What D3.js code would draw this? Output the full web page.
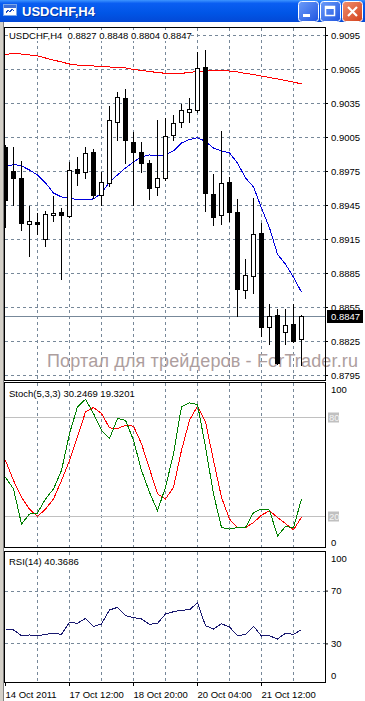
<!DOCTYPE html>
<html>
<head>
<meta charset="utf-8">
<title>USDCHF,H4</title>
<script src="https://cdn.jsdelivr.net/npm/d3@7"></script>
<style>
  body { margin: 0; background: #d4d0c8; }
  svg { display: block; }
  text { font-family: "Liberation Sans", Arial, sans-serif; }
</style>
</head>
<body>
<svg id="chart" width="365" height="701"></svg>
<script>
// USDCHF H4, last 38 bars
var symbol = "USDCHF,H4";
var opens  = [0.8996,0.8975,0.8969,0.8928,0.8930,0.8915,0.8936,0.8939,0.8935,0.8977,0.8974,0.8992,0.8954,0.8964,0.9018,0.9039,0.9001,0.8992,0.8982,0.8961,0.8969,0.9007,0.9018,0.9027,0.9029,0.9067,0.8955,0.8936,0.8965,0.8939,0.8870,0.8882,0.8920,0.8837,0.8848,0.8833,0.8840,0.8827];
var highs  = [0.8998,0.8996,0.8984,0.8944,0.8938,0.8940,0.8953,0.8942,0.8983,0.8987,0.8996,0.8994,0.8974,0.9032,0.9045,0.9047,0.9009,0.9001,0.8985,0.9020,0.9022,0.9024,0.9034,0.9039,0.9080,0.9082,0.8972,0.9010,0.8970,0.8950,0.8897,0.8951,0.8929,0.8858,0.8853,0.8853,0.8858,0.8848];
var lows   = [0.8926,0.8945,0.8923,0.8900,0.8919,0.8909,0.8931,0.8880,0.8934,0.8963,0.8969,0.8951,0.8945,0.8962,0.9002,0.8982,0.8945,0.8974,0.8950,0.8954,0.8967,0.9002,0.9014,0.9018,0.9027,0.8940,0.8927,0.8928,0.8931,0.8847,0.8863,0.8867,0.8829,0.8822,0.8805,0.8822,0.8824,0.8804];
var closes = [0.8949,0.8969,0.8929,0.8931,0.8928,0.8937,0.8938,0.8936,0.8976,0.8973,0.8991,0.8954,0.8965,0.9020,0.9040,0.9002,0.8992,0.8982,0.8960,0.8969,0.9006,0.9017,0.9029,0.9030,0.9066,0.8956,0.8934,0.8964,0.8939,0.8871,0.8883,0.8919,0.8837,0.8847,0.8806,0.8839,0.8825,0.8847];

var maSlow = [0.90778,0.90787,0.90782,0.90774,0.90765,0.90747,0.90729,0.90712,0.90694,0.90685,0.90677,0.90677,0.90672,0.90668,0.90663,0.90659,0.90646,0.90637,0.90628,0.90619,0.90612,0.90612,0.90612,0.90619,0.90628,0.90634,0.90635,0.90635,0.90632,0.90624,0.90610,0.90602,0.90588,0.90575,0.90562,0.90549,0.90535,0.90518];
var maFast = [0.89786,0.89808,0.89795,0.89759,0.89715,0.89645,0.89556,0.89521,0.89508,0.89499,0.89495,0.89504,0.89556,0.89653,0.89715,0.89777,0.89830,0.89874,0.89892,0.89883,0.89892,0.89927,0.89997,0.90028,0.90044,0.90011,0.89953,0.89927,0.89909,0.89821,0.89689,0.89609,0.89424,0.89248,0.89016,0.88927,0.88813,0.88680];

var stochMain   = [43.5,36.4,15.1,21.2,21.8,30.3,36.4,47.6,69.9,86.2,90.7,82.1,72.0,66.9,79.1,78.0,65.9,47.6,34.3,23.2,37.4,57.7,86.2,88.6,87.6,61.8,33.4,13.0,12.0,13.0,13.0,22.1,24.2,23.6,7.9,13.6,13.0,30.2469];
var stochSignal = [53.7,41.5,31.3,24.2,19.7,24.2,30.3,41.5,53.7,67.9,83.1,85.8,82.1,73.4,73.0,75.0,74.4,63.8,48.6,33.4,30.3,37.4,59.8,78.0,86.6,77.0,53.7,31.3,18.1,13.0,13.0,16.0,20.5,23.2,19.1,15.4,11.6,19.3201];
var rsi = [40.2,40.2,35.8,36.4,35.8,36.9,37.7,36.9,46.0,45.2,49.0,42.7,44.7,55.3,57.3,51.0,49.5,48.5,44.5,45.2,52.3,54.0,55.1,55.5,60.8,43.4,40.9,44.9,42.4,35.8,36.9,43.0,35.6,35.8,33.3,37.7,36.9,40.3686];

var priceTicks = [0.9095,0.9065,0.9035,0.9005,0.8975,0.8945,0.8915,0.8885,0.8855,0.8825,0.8795];
var dateTickBars = [0, 8, 16, 24, 32];
var dateTickLabels = ["14 Oct 2011", "17 Oct 12:00", "18 Oct 20:00", "20 Oct 04:00", "21 Oct 12:00"];
var stochLevels = [80, 20];
var rsiLevels = [70, 30];
var watermark = "Портал для трейдеров - ForTrader.ru";

var n = closes.length;
var f4 = d3.format(".4f");
var svg = d3.select("#chart");
var gridCol = "#778899";
var fs = 9.5;

var panes = {
  main:  {top: 27,  bottom: 380},
  stoch: {top: 382, bottom: 547},
  rsi:   {top: 551, bottom: 682}
};
var left = 4, right = 325;

var x   = d3.scaleLinear().domain([0, n - 1]).range([5, 5 + 8 * (n - 1)]);
var yP  = d3.scaleLinear().domain([0.8795, 0.9095]).range([375, 35]);
var ySt = d3.scaleLinear().domain([0, 100]).range([549, 384]);
var yR  = d3.scaleLinear().domain([0, 100]).range([683, 551]);

function col(i) { return Math.round(x(i)); }
function row(v) { return Math.round(v); }

var defs = svg.append("defs");

// ---- window chrome ----
var tb = defs.append("linearGradient").attr("id", "tbar").attr("x1", 0).attr("y1", 0).attr("x2", 0).attr("y2", 1);
tb.append("stop").attr("offset", "0%").attr("stop-color", "#3d95ff");
tb.append("stop").attr("offset", "15%").attr("stop-color", "#0a5ef2");
tb.append("stop").attr("offset", "60%").attr("stop-color", "#0055e6");
tb.append("stop").attr("offset", "100%").attr("stop-color", "#0348d6");
var bb = defs.append("linearGradient").attr("id", "bblue").attr("x1", 0).attr("y1", 0).attr("x2", 1).attr("y2", 1);
bb.append("stop").attr("offset", "0%").attr("stop-color", "#6d9cf9");
bb.append("stop").attr("offset", "100%").attr("stop-color", "#1f55e0");
var br = defs.append("linearGradient").attr("id", "bred").attr("x1", 0).attr("y1", 0).attr("x2", 1).attr("y2", 1);
br.append("stop").attr("offset", "0%").attr("stop-color", "#f09070");
br.append("stop").attr("offset", "100%").attr("stop-color", "#d3401b");

svg.append("rect").attr("x", 4).attr("y", 22).attr("width", 361).attr("height", 679).attr("fill", "#fff");
svg.append("rect").attr("x", 0).attr("y", 0).attr("width", 365).attr("height", 22).attr("fill", "url(#tbar)");
svg.append("line").attr("x1", 3.5).attr("x2", 3.5).attr("y1", 22).attr("y2", 701).attr("stroke", "#808080");

// little window icon
var ic = svg.append("g").attr("shape-rendering", "crispEdges");
ic.append("rect").attr("x", 3.5).attr("y", 4.5).attr("width", 13).attr("height", 11).attr("fill", "#fff").attr("stroke", "#7ea8e8");
ic.append("rect").attr("x", 4).attr("y", 5).attr("width", 12).attr("height", 3).attr("fill", "#3b6fd8");
ic.append("path").attr("d", "M6,13 L8,10 L10,12 L12,9 L14,11").attr("fill", "none").attr("stroke", "#2050c0");

svg.append("text").attr("x", 22).attr("y", 16).attr("fill", "#0a1f70").attr("opacity", 0.5)
  .attr("font-weight", "bold").attr("font-size", 13).text(symbol).attr("transform", "translate(1,1)");
svg.append("text").attr("x", 22).attr("y", 16).attr("fill", "#fff")
  .attr("font-weight", "bold").attr("font-size", 13).text(symbol);

var btns = [{x: 298, fill: "url(#bblue)", kind: "min"}, {x: 320, fill: "url(#bblue)", kind: "max"}, {x: 342, fill: "url(#bred)", kind: "close"}];
var bg = svg.selectAll("g.btn").data(btns).join("g").attr("class", "btn")
  .attr("transform", function(d) { return "translate(" + d.x + ",1)"; });
bg.append("rect").attr("x", 0.5).attr("y", 0.5).attr("width", 20).attr("height", 20).attr("rx", 3)
  .attr("fill", function(d) { return d.fill; }).attr("stroke", "#fff");
bg.filter(function(d) { return d.kind === "min"; }).append("rect")
  .attr("x", 5).attr("y", 13).attr("width", 7).attr("height", 3).attr("fill", "#fff");
bg.filter(function(d) { return d.kind === "max"; }).append("rect")
  .attr("x", 5.5).attr("y", 5.5).attr("width", 9).attr("height", 9).attr("fill", "none")
  .attr("stroke", "#fff").attr("stroke-width", 1.5);
bg.filter(function(d) { return d.kind === "max"; }).append("rect")
  .attr("x", 5).attr("y", 5).attr("width", 10).attr("height", 3).attr("fill", "#fff");
bg.filter(function(d) { return d.kind === "close"; }).append("path")
  .attr("d", "M6,6 L15,15 M15,6 L6,15").attr("stroke", "#fff").attr("stroke-width", 2.2);

// ---- panes ----
Object.keys(panes).forEach(function(k) {
  var p = panes[k];
  defs.append("clipPath").attr("id", "clip-" + k).append("rect")
    .attr("x", left + 1).attr("y", p.top + 1).attr("width", right - left - 1).attr("height", p.bottom - p.top - 1);
});

var gridCols = d3.range(4, n, 4);
function vgrid(p) {
  svg.append("g").attr("shape-rendering", "crispEdges")
    .selectAll("line").data(gridCols).join("line")
    .attr("x1", function(i) { return col(i) + 0.5; }).attr("x2", function(i) { return col(i) + 0.5; })
    .attr("y1", p.top + 1).attr("y2", p.bottom)
    .attr("stroke", gridCol).attr("stroke-dasharray", "3,3");
}

// main pane
var pm = panes.main;
vgrid(pm);
svg.append("g").attr("shape-rendering", "crispEdges")
  .selectAll("line").data(priceTicks).join("line")
  .attr("x1", left + 1).attr("x2", right)
  .attr("y1", function(v) { return row(yP(v)) + 0.5; }).attr("y2", function(v) { return row(yP(v)) + 0.5; })
  .attr("stroke", gridCol).attr("stroke-dasharray", "3,3");

svg.append("text").attr("x", 47).attr("y", 367).attr("font-size", 18).attr("fill", "#ad9e9e")
  .attr("textLength", 311).attr("lengthAdjust", "spacing").text(watermark);

var mainG = svg.append("g").attr("clip-path", "url(#clip-main)");
var lastClose = closes[n - 1];
mainG.append("line").attr("shape-rendering", "crispEdges")
  .attr("x1", left + 1).attr("x2", right)
  .attr("y1", row(yP(lastClose)) + 0.5).attr("y2", row(yP(lastClose)) + 0.5)
  .attr("stroke", gridCol);

var lineP = function(arr) {
  return d3.line().x(function(d, i) { return col(i) + 0.5; }).y(function(d) { return yP(d); })(arr);
};
mainG.append("path").attr("d", lineP(maSlow)).attr("fill", "none").attr("stroke", "#ff0000").attr("shape-rendering", "crispEdges");
mainG.append("path").attr("d", lineP(maFast)).attr("fill", "none").attr("stroke", "#0000dd").attr("shape-rendering", "crispEdges");

var bars = d3.range(n).map(function(i) { return {i: i, o: opens[i], h: highs[i], l: lows[i], c: closes[i]}; });
var cg = mainG.append("g").attr("shape-rendering", "crispEdges");
cg.selectAll("line").data(bars).join("line")
  .attr("x1", function(d) { return col(d.i) + 0.5; }).attr("x2", function(d) { return col(d.i) + 0.5; })
  .attr("y1", function(d) { return row(yP(d.h)); }).attr("y2", function(d) { return row(yP(d.l)) + 1; })
  .attr("stroke", "#000");
cg.selectAll("rect").data(bars).join("rect")
  .attr("x", function(d) { return col(d.i) - 1.5; }).attr("width", 4)
  .attr("y", function(d) { return row(yP(Math.max(d.o, d.c))) + 0.5; })
  .attr("height", function(d) { return Math.max(1, row(yP(Math.min(d.o, d.c))) - row(yP(Math.max(d.o, d.c)))); })
  .attr("fill", function(d) { return d.c >= d.o ? "#fff" : "#000"; })
  .attr("stroke", "#000");

// header label
var hdr = symbol + "  " + [opens[n - 1], highs[n - 1], lows[n - 1], closes[n - 1]].map(f4).join(" ");
svg.append("rect").attr("x", 8).attr("y", 30).attr("width", 183).attr("height", 11).attr("fill", "#fff");
svg.append("text").attr("x", 9).attr("y", 39).attr("font-size", fs).attr("xml:space", "preserve")
  .style("white-space", "pre").text(hdr);

// price axis
var axP = svg.append("g").attr("transform", "translate(" + right + ",0)")
  .call(d3.axisRight(yP).tickValues(priceTicks).tickSize(3).tickPadding(3).tickFormat(f4));
axP.select(".domain").remove();
axP.selectAll("text").attr("font-size", fs).attr("font-family", null).attr("fill", "#000");

// current price box
var cy = row(yP(lastClose));
svg.append("rect").attr("x", 327).attr("y", cy - 6).attr("width", 36).attr("height", 13).attr("fill", "#000");
svg.append("text").attr("x", 331).attr("y", cy + 4).attr("font-size", fs).attr("fill", "#fff").text(f4(lastClose));

// stochastic pane
var ps = panes.stoch;
vgrid(ps);
var stG = svg.append("g").attr("clip-path", "url(#clip-stoch)").attr("shape-rendering", "crispEdges");
stG.selectAll("line").data(stochLevels).join("line")
  .attr("x1", left + 1).attr("x2", right)
  .attr("y1", function(v) { return row(ySt(v)) + 0.5; }).attr("y2", function(v) { return row(ySt(v)) + 0.5; })
  .attr("stroke", "#c0c0c0");
var lineSt = d3.line().x(function(d, i) { return col(i) + 0.5; }).y(function(d) { return ySt(d); });
stG.append("path").attr("d", lineSt(stochSignal)).attr("fill", "none").attr("stroke", "#ff0000");
stG.append("path").attr("d", lineSt(stochMain)).attr("fill", "none").attr("stroke", "#008000");

var stText = "Stoch(5,3,3) " + f4(stochMain[n - 1]) + " " + f4(stochSignal[n - 1]);
svg.append("rect").attr("x", 8).attr("y", 388).attr("width", 127).attr("height", 11).attr("fill", "#fff");
svg.append("text").attr("x", 9).attr("y", 397).attr("font-size", fs).text(stText);

var axS = svg.append("g").attr("transform", "translate(" + right + ",0)")
  .call(d3.axisRight(ySt).tickValues(stochLevels).tickSize(0).tickPadding(6));
axS.select(".domain").remove();
axS.selectAll(".tick").insert("rect", "text").attr("x", 3).attr("y", -5).attr("width", 11).attr("height", 10).attr("fill", "#c0c0c0");
axS.selectAll("text").attr("font-size", fs).attr("font-family", null).attr("fill", "#f4f4f4").attr("x", 4);
svg.append("text").attr("x", 331).attr("y", ps.top + 11).attr("font-size", fs).text("100");
svg.append("text").attr("x", 331).attr("y", ps.bottom - 1).attr("font-size", fs).text("0");

// RSI pane
var pr = panes.rsi;
vgrid(pr);
var rG = svg.append("g").attr("clip-path", "url(#clip-rsi)").attr("shape-rendering", "crispEdges");
rG.selectAll("line").data(rsiLevels).join("line")
  .attr("x1", left + 1).attr("x2", right)
  .attr("y1", function(v) { return row(yR(v)) + 0.5; }).attr("y2", function(v) { return row(yR(v)) + 0.5; })
  .attr("stroke", gridCol).attr("stroke-dasharray", "3,3");
var lineR = d3.line().x(function(d, i) { return col(i) + 0.5; }).y(function(d) { return yR(d); });
rG.append("path").attr("d", lineR(rsi)).attr("fill", "none").attr("stroke", "#191970");

svg.append("rect").attr("x", 8).attr("y", 556).attr("width", 71).attr("height", 11).attr("fill", "#fff");
svg.append("text").attr("x", 9).attr("y", 565).attr("font-size", fs).text("RSI(14) " + f4(rsi[n - 1]));

var axR = svg.append("g").attr("transform", "translate(" + right + ",0)")
  .call(d3.axisRight(yR).tickValues(rsiLevels).tickSize(3).tickPadding(3));
axR.select(".domain").remove();
axR.selectAll("text").attr("font-size", fs).attr("font-family", null).attr("fill", "#000");
svg.append("text").attr("x", 331).attr("y", pr.top + 11).attr("font-size", fs).text("100");
svg.append("text").attr("x", 331).attr("y", pr.bottom - 3).attr("font-size", fs).text("0");

// pane frames
Object.keys(panes).forEach(function(k) {
  var p = panes[k];
  svg.append("rect").attr("shape-rendering", "crispEdges")
    .attr("x", left + 0.5).attr("y", p.top + 0.5).attr("width", right - left).attr("height", p.bottom - p.top)
    .attr("fill", "none").attr("stroke", "#000");
});

// time axis
var axT = svg.append("g").attr("transform", "translate(0," + pr.bottom + ")")
  .call(d3.axisBottom(x).tickValues(dateTickBars).tickSize(4).tickPadding(5)
    .tickFormat(function(d) { return dateTickLabels[dateTickBars.indexOf(d)]; }));
axT.select(".domain").remove();
axT.selectAll("text").attr("font-size", fs).attr("font-family", null).attr("fill", "#000").attr("text-anchor", "start");
</script>
</body>
</html>
